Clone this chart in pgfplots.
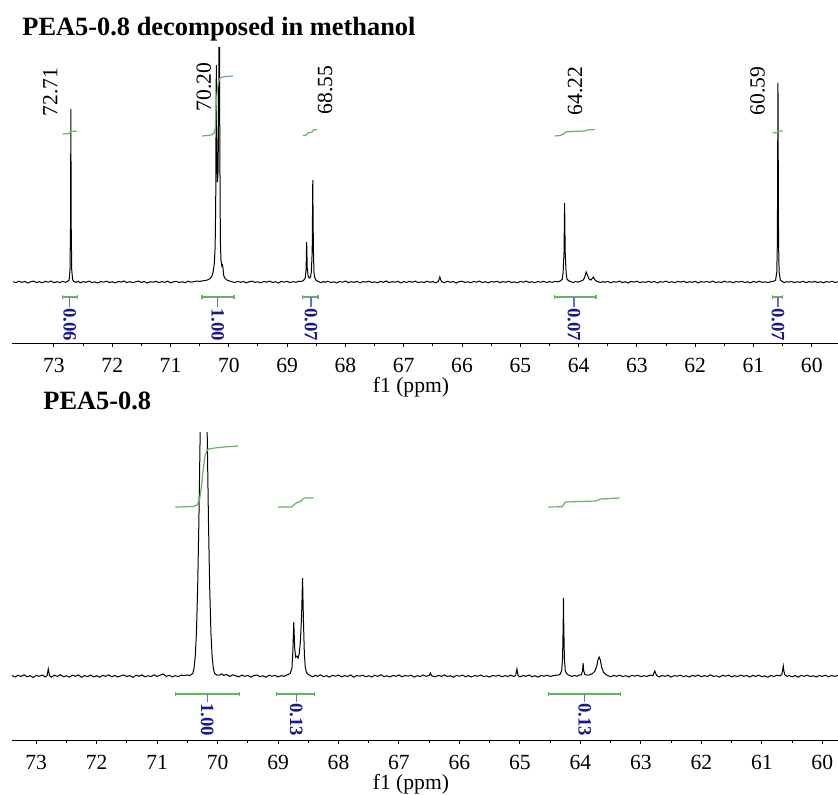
\documentclass[border=0pt]{standalone}
\usepackage{fontspec}
\setmainfont{Liberation Serif}
\usepackage{pgfplots}
\pgfplotsset{compat=1.18}
\definecolor{intgreen}{RGB}{100,180,100}
\definecolor{intblue}{RGB}{25,25,140}
\definecolor{ticblue}{RGB}{110,110,200}
\pgfplotsset{nmr/.style={scale only axis, width=413pt, x dir=reverse,
  axis x line*=bottom, axis y line=none,
  xtick={60,...,73}, minor x tick num=1, tick align=outside,
  major tick length=2pt, minor tick length=1.5pt,
  every tick/.style={black, line width=0.5pt},
  axis line style={line width=0.5pt},
  ticklabel style={font=\fontsize{10.8}{12}\selectfont},
  /pgf/number format/assume math mode=true,
  xticklabel style={inner sep=0pt, yshift=-5.5pt},
  xlabel={f1 (ppm)},
  xlabel style={at={(axis description cs:0.483,0)}, anchor=north, inner sep=0pt, yshift=-17pt, font=\fontsize{10.8}{12}\selectfont},
  clip mode=individual, anchor=south west},
  spec/.style={black, line width=0.5pt, no marks},
  integ/.style={intgreen, line width=0.6pt, no marks},
  brk/.style={intgreen, line width=0.6pt, no marks},
  ctick/.style={ticblue, line width=0.6pt, no marks}
}
\tikzset{
  plab/.style={rotate=90, inner sep=0pt, font=\fontsize{10.8}{12}\selectfont},
  ilab/.style={rotate=-90, anchor=west, inner sep=0pt, text=intblue, font=\bfseries\fontsize{9.4}{10}\selectfont}
}
\begin{document}
\begin{tikzpicture}
\useasboundingbox (0,0) rectangle (419pt,-397pt);
\node[anchor=base west, inner sep=0pt, font=\bfseries\fontsize{13.2}{15}\selectfont] at (11pt,-17.5pt) {PEA5-0.8 decomposed in methanol};
\node[anchor=base west, inner sep=0pt, font=\bfseries\fontsize{13.2}{15}\selectfont] at (21.5pt,-204.5pt) {PEA5-0.8};
% ---------------- top panel ----------------
\begin{axis}[nmr, at={(6pt,-171.5pt)}, height=148pt, xmin=59.55, xmax=73.72, ymin=-61, ymax=235]
\addplot[spec] coordinates {
(73.70,0.3)(73.65,-0.6)(73.60,0.8)(73.55,-0.4)(73.50,0.6)(73.45,-1.0)(73.40,0.2)(73.35,0.9)(73.30,-0.5)(73.25,0.4)
(73.20,-0.9)(73.15,0.7)(73.10,-0.2)(73.05,1.0)(73.00,-0.7)(72.95,0.3)(72.90,-0.5)(72.85,0.6)(72.80,-0.3)(72.76,0.8)
(72.74,2)(72.725,12)(72.715,60)(72.71,173)(72.705,60)(72.695,12)(72.68,2.5)(72.66,0.6)(72.62,-0.4)(72.58,0.7)
(72.55,-0.8)(72.50,0.4)(72.45,-0.3)(72.40,0.9)(72.35,-0.6)(72.30,0.2)(72.25,-1.0)(72.20,0.5)(72.15,-0.2)(72.10,0.8)
(72.05,-0.5)(72.00,0.3)(71.95,-0.9)(71.90,0.6)(71.85,-0.1)(71.80,1.0)(71.75,-0.6)(71.70,0.4)(71.65,-0.7)(71.60,0.2)
(71.55,0.9)(71.50,-0.4)(71.45,0.5)(71.40,-1.1)(71.35,0.3)(71.30,-0.2)(71.25,0.7)(71.20,-0.6)(71.15,0.4)(71.10,-0.3)
(71.05,0.9)(71.00,-0.8)(70.95,0.2)(70.90,0.6)(70.85,-0.5)(70.80,0.3)(70.75,-0.7)(70.70,0.8)(70.65,-0.2)(70.60,0.4)
(70.55,0.9)(70.50,0.6)(70.45,1.2)(70.40,1.5)(70.36,2.2)(70.32,3.5)(70.29,6)(70.27,10)(70.25,18)(70.235,35)
(70.225,80)(70.215,217)(70.205,120)(70.195,100)(70.185,110)(70.175,170)(70.165,320)(70.155,140)(70.145,40)(70.135,22)
(70.12,16)(70.11,17)(70.10,14)(70.09,7)(70.07,4)(70.04,2.2)(70.00,1.2)(69.95,0.4)(69.90,-0.6)(69.85,0.7)
(69.80,-0.3)(69.75,0.5)(69.70,-0.9)(69.65,0.3)(69.60,0.8)(69.55,-0.4)(69.50,0.2)(69.45,-0.8)(69.40,0.6)(69.35,-0.2)
(69.30,0.9)(69.25,-0.5)(69.20,0.3)(69.15,-1.0)(69.10,0.5)(69.05,-0.1)(69.00,0.7)(68.95,-0.6)(68.90,0.4)(68.85,-0.3)
(68.80,0.8)(68.76,0.5)(68.72,1.5)(68.69,4)(68.675,12)(68.665,40)(68.655,14)(68.64,6)(68.62,4)(68.60,5)
(68.585,10)(68.57,30)(68.56,102)(68.55,35)(68.54,10)(68.525,4)(68.50,1.5)(68.46,0.4)(68.42,-0.7)(68.38,0.6)
(68.35,-0.3)(68.30,0.8)(68.25,-0.5)(68.20,0.2)(68.15,-0.9)(68.10,0.5)(68.05,-0.2)(68.00,0.9)(67.95,-0.6)(67.90,0.3)
(67.85,-0.4)(67.80,0.7)(67.75,-1.0)(67.70,0.4)(67.65,-0.1)(67.60,0.8)(67.55,-0.5)(67.50,0.2)(67.45,-0.8)(67.40,0.6)
(67.35,-0.3)(67.30,1.0)(67.25,-0.6)(67.20,0.3)(67.15,-0.2)(67.10,0.7)(67.05,-0.9)(67.00,0.4)(66.95,-0.4)(66.90,0.6)
(66.85,-0.2)(66.80,0.9)(66.75,-0.7)(66.70,0.2)(66.65,-0.5)(66.60,0.8)(66.55,-0.3)(66.50,0.4)(66.45,-0.8)(66.41,0.5)
(66.39,3)(66.38,5)(66.37,3)(66.35,0.4)(66.30,-0.6)(66.25,0.7)(66.20,-0.3)(66.15,0.5)(66.10,-1.0)(66.05,0.3)
(66.00,0.8)(65.95,-0.4)(65.90,0.2)(65.85,-0.7)(65.80,0.6)(65.75,-0.2)(65.70,0.9)(65.65,-0.5)(65.60,0.3)(65.55,-0.9)
(65.50,0.5)(65.45,-0.1)(65.40,0.7)(65.35,-0.6)(65.30,0.4)(65.25,-0.3)(65.20,0.8)(65.15,-0.5)(65.10,0.2)(65.05,-0.8)
(65.00,0.6)(64.95,-0.2)(64.90,0.9)(64.85,-0.4)(64.80,0.3)(64.75,-0.7)(64.70,0.5)(64.65,-0.2)(64.60,0.7)(64.55,-0.5)
(64.50,0.4)(64.45,-0.3)(64.40,0.6)(64.35,0.2)(64.31,1.2)(64.28,3)(64.265,10)(64.25,30)(64.24,79)(64.23,30)
(64.215,10)(64.20,3)(64.17,1.2)(64.13,0.3)(64.09,-0.5)(64.05,0.6)(64.01,-0.2)(63.97,0.8)(63.93,1.5)(63.90,4)
(63.87,10)(63.85,7)(63.82,3)(63.79,2)(63.76,4)(63.745,5)(63.73,3)(63.70,1)(63.66,0.2)(63.62,-0.6)
(63.58,0.5)(63.55,-0.3)(63.50,0.7)(63.45,-0.8)(63.40,0.4)(63.35,-0.2)(63.30,0.9)(63.25,-0.5)(63.20,0.3)(63.15,-1.0)
(63.10,0.6)(63.05,-0.1)(63.00,0.8)(62.95,-0.6)(62.90,0.2)(62.85,-0.4)(62.80,0.7)(62.75,-0.3)(62.70,0.5)(62.65,-0.9)
(62.60,0.4)(62.55,-0.2)(62.50,0.9)(62.45,-0.5)(62.40,0.3)(62.35,-0.7)(62.30,0.6)(62.25,-0.1)(62.20,0.8)(62.15,-0.6)
(62.10,0.3)(62.05,-0.3)(62.00,0.7)(61.95,-0.9)(61.90,0.4)(61.85,-0.2)(61.80,0.6)(61.75,-0.4)(61.70,0.9)(61.65,-0.6)
(61.60,0.2)(61.55,-0.5)(61.50,0.8)(61.45,-0.2)(61.40,0.4)(61.35,-0.8)(61.30,0.5)(61.25,-0.1)(61.20,0.7)(61.15,-0.5)
(61.10,0.3)(61.05,-0.9)(61.00,0.6)(60.95,-0.3)(60.90,0.8)(60.85,-0.4)(60.80,0.2)(60.75,-0.6)(60.70,0.5)(60.65,0.8)
(60.62,2)(60.60,10)(60.59,40)(60.585,120)(60.58,199)(60.575,120)(60.57,40)(60.56,10)(60.54,2)(60.51,0.6)
(60.47,-0.5)(60.43,0.4)(60.40,-0.2)(60.35,0.7)(60.30,-0.6)(60.25,0.3)(60.20,-0.3)(60.15,0.8)(60.10,-0.7)(60.05,0.4)
(60.00,-0.2)(59.95,0.6)(59.90,-0.5)(59.85,0.3)(59.80,-0.8)(59.75,0.5)(59.70,-0.2)(59.65,0.7)(59.60,-0.4)(59.55,0.2)
};
% integral curves
\addplot[integ] coordinates {(72.85,148)(72.74,148.5)(72.72,149.5)(72.70,150.5)(72.61,151)};
\addplot[integ] coordinates {(70.46,146)(70.30,147)(70.25,149)(70.23,155)(70.22,175)(70.20,190)(70.18,200)(70.15,204)(70.10,205)(70.06,205.5)(69.93,206)};
\addplot[integ] coordinates {(68.73,146.5)(68.67,147)(68.65,149)(68.57,150)(68.55,152)(68.49,152.5)};
\addplot[integ] coordinates {(64.41,146)(64.32,146.5)(64.26,148)(64.22,150)(64.15,150.5)(63.90,151)(63.85,152)(63.72,152.5)};
\addplot[integ] coordinates {(60.67,149)(60.59,149.5)(60.57,151)(60.50,151)};
% integration brackets
\addplot[brk] coordinates {(72.85,-13)(72.85,-17)(72.85,-15)(72.59,-15)(72.59,-13)(72.59,-17)};
\addplot[ctick] coordinates {(72.73,-15)(72.73,-25)};
\addplot[brk] coordinates {(70.46,-13)(70.46,-17)(70.46,-15)(69.91,-15)(69.91,-13)(69.91,-17)};
\addplot[ctick] coordinates {(70.19,-15)(70.19,-25)};
\addplot[brk] coordinates {(68.73,-13)(68.73,-17)(68.73,-15)(68.47,-15)(68.47,-13)(68.47,-17)};
\addplot[ctick] coordinates {(68.59,-15)(68.59,-25)};
\addplot[brk] coordinates {(64.42,-13)(64.42,-17)(64.42,-15)(63.70,-15)(63.70,-13)(63.70,-17)};
\addplot[ctick] coordinates {(64.08,-15)(64.08,-25)};
\addplot[brk] coordinates {(60.67,-13)(60.67,-17)(60.67,-15)(60.50,-15)(60.50,-13)(60.50,-17)};
\addplot[ctick] coordinates {(60.58,-15)(60.58,-25)};
\node[ilab] at (axis cs:72.73,-26) {0.06};
\node[ilab] at (axis cs:70.19,-26) {1.00};
\node[ilab] at (axis cs:68.59,-26) {0.07};
\node[ilab] at (axis cs:64.08,-26) {0.07};
\node[ilab] at (axis cs:60.58,-26) {0.07};
% peak labels
\node[plab] at (axis cs:73.06,190) {72.71};
\node[plab] at (axis cs:70.43,195) {70.20};
\node[plab] at (axis cs:68.35,192) {68.55};
\node[plab] at (axis cs:64.06,191) {64.22};
\node[plab] at (axis cs:60.93,191) {60.59};
\end{axis}
% ---------------- bottom panel ----------------
\begin{axis}[nmr, at={(6pt,-370pt)}, height=154pt, xmin=59.74, xmax=73.40, ymin=-64, ymax=244]
\addplot[spec] coordinates {
(73.40,0.5)(73.35,-1.0)(73.30,0.8)(73.25,-0.5)(73.20,1.2)(73.15,-0.8)(73.10,0.3)(73.05,-1.4)(73.00,0.6)(72.95,-0.3)
(72.90,1.0)(72.85,-0.9)(72.82,0.5)(72.80,7)(72.78,0.4)(72.75,-1.2)(72.70,0.9)(72.65,-0.4)(72.60,1.3)(72.55,-0.7)
(72.50,0.2)(72.45,-1.1)(72.40,0.8)(72.35,-0.2)(72.30,1.1)(72.25,-1.3)(72.20,0.4)(72.15,-0.6)(72.10,1.0)(72.05,-0.9)
(72.00,0.3)(71.95,-1.2)(71.90,0.7)(71.85,-0.3)(71.80,1.2)(71.75,-0.8)(71.70,0.5)(71.65,-1.0)(71.60,0.2)(71.55,1.0)
(71.50,-0.6)(71.45,0.4)(71.40,-1.3)(71.35,0.8)(71.30,-0.2)(71.25,1.1)(71.20,-0.9)(71.15,0.3)(71.10,-0.5)(71.05,1.2)
(71.00,-0.4)(70.95,0.9)(70.90,2.0)(70.85,-0.3)(70.80,0.7)(70.75,-0.9)(70.70,0.4)(70.65,-0.6)(70.60,1.0)(70.55,0.3)
(70.50,1.1)(70.47,0.5)(70.45,0.8)(70.41,2.6)(70.39,7.6)(70.37,19)(70.35,43)(70.33,87)(70.31,152)(70.29,235)
(70.27,322)(70.25,388)(70.23,413)(70.21,388)(70.19,322)(70.17,235)(70.15,152)(70.13,87)(70.11,43)(70.09,19)
(70.07,7.6)(70.05,2.6)(70.01,0.8)(69.97,0.9)(69.93,2.2)(69.90,0.6)(69.85,1.5)(69.80,-0.4)(69.75,1.2)(69.70,0.2)
(69.65,-0.8)(69.60,0.9)(69.55,-0.3)(69.50,0.6)(69.45,-1.1)(69.40,0.4)(69.35,1.0)(69.30,-0.7)(69.25,0.3)(69.20,-1.2)
(69.15,0.8)(69.10,-0.2)(69.05,0.6)(69.00,-0.9)(68.95,0.4)(68.90,-0.3)(68.86,1.0)(68.83,1.5)(68.80,2.5)(68.77,8)
(68.755,25)(68.74,54)(68.725,28)(68.71,19)(68.69,20)(68.67,18)(68.65,22)(68.63,35)(68.61,62)(68.595,98)
(68.58,55)(68.565,22)(68.55,9)(68.53,3.5)(68.50,1.5)(68.46,0.3)(68.42,-0.8)(68.38,0.9)(68.35,-0.4)(68.30,1.2)
(68.25,-0.6)(68.20,0.3)(68.15,-1.1)(68.10,0.7)(68.05,-0.2)(68.00,1.0)(67.95,-0.8)(67.90,0.4)(67.85,-0.5)(67.80,1.1)
(67.75,-1.2)(67.70,0.5)(67.65,-0.2)(67.60,0.9)(67.55,-0.7)(67.50,0.3)(67.45,-1.0)(67.40,0.8)(67.35,-0.4)(67.30,1.3)
(67.25,-0.6)(67.20,0.2)(67.15,-0.9)(67.10,0.6)(67.05,-0.3)(67.00,1.0)(66.95,-0.8)(66.90,0.5)(66.85,-0.1)(66.80,0.8)
(66.75,-1.1)(66.70,0.4)(66.65,-0.6)(66.60,1.0)(66.55,-0.3)(66.50,0.6)(66.48,3)(66.46,0.2)(66.40,-0.9)(66.35,0.7)
(66.30,-0.4)(66.25,1.1)(66.20,-0.5)(66.15,0.3)(66.10,-1.2)(66.05,0.6)(66.00,-0.2)(65.95,0.9)(65.90,-0.7)(65.85,0.4)
(65.80,-1.0)(65.75,0.5)(65.70,-0.3)(65.65,1.0)(65.60,-0.6)(65.55,0.2)(65.50,-1.1)(65.45,0.7)(65.40,-0.2)(65.35,0.9)
(65.30,-0.8)(65.25,0.4)(65.20,-0.4)(65.15,0.8)(65.10,-0.5)(65.07,0.6)(65.05,7)(65.03,0.5)(65.00,-0.9)(64.95,0.5)
(64.90,-0.3)(64.85,1.0)(64.80,-0.7)(64.75,0.3)(64.70,-1.1)(64.65,0.6)(64.60,-0.2)(64.55,0.8)(64.50,-0.5)(64.45,0.4)
(64.40,0.9)(64.37,0.8)(64.34,1.5)(64.31,5)(64.295,18)(64.285,50)(64.28,78)(64.275,50)(64.265,18)(64.25,5)
(64.22,1.8)(64.18,0.5)(64.14,-0.4)(64.10,0.6)(64.06,-0.2)(64.02,0.8)(63.985,1.2)(63.965,5)(63.955,13)(63.945,5)
(63.925,1.5)(63.89,0.8)(63.85,1.2)(63.80,2.5)(63.76,5)(63.73,10)(63.71,16)(63.69,19)(63.67,16)(63.65,9)
(63.62,4)(63.58,1.5)(63.54,0.3)(63.50,-0.8)(63.45,0.6)(63.40,-0.3)(63.35,0.9)(63.30,-0.6)(63.25,0.4)(63.20,-1.0)
(63.15,0.7)(63.10,-0.2)(63.05,0.8)(63.00,-0.7)(62.95,0.3)(62.90,-0.4)(62.85,0.9)(62.80,0.5)(62.77,5)(62.74,0.6)
(62.70,-0.9)(62.65,0.5)(62.60,-0.3)(62.55,0.8)(62.50,-1.1)(62.45,0.4)(62.40,-0.2)(62.35,0.9)(62.30,-0.6)(62.25,0.3)
(62.20,-1.0)(62.15,0.6)(62.10,-0.3)(62.05,1.0)(62.00,-0.7)(61.95,0.4)(61.90,-0.5)(61.85,1.2)(61.80,-0.4)(61.75,0.2)
(61.70,-1.1)(61.65,0.7)(61.60,-0.2)(61.55,0.9)(61.50,-0.8)(61.45,0.3)(61.40,-0.6)(61.35,1.0)(61.30,-0.3)(61.25,0.5)
(61.20,-1.0)(61.15,0.6)(61.10,-0.4)(61.05,0.9)(61.00,-0.7)(60.95,0.2)(60.90,-1.2)(60.85,0.6)(60.80,-0.5)(60.75,0.8)
(60.70,0.2)(60.67,1.5)(60.655,6)(60.645,10)(60.635,5)(60.62,1.2)(60.58,-0.5)(60.55,0.6)(60.50,-0.8)(60.45,0.4)
(60.40,-1.2)(60.35,0.7)(60.30,-0.3)(60.25,0.9)(60.20,-0.6)(60.15,0.3)(60.10,-1.0)(60.05,0.6)(60.00,-0.4)(59.95,0.8)
(59.90,-0.9)(59.85,0.5)(59.80,-0.3)(59.74,0.6)
};
\addplot[integ] coordinates {(70.70,169)(70.40,169.5)(70.34,171)(70.30,176)(70.27,188)(70.24,205)(70.21,220)(70.18,225)(70.15,227)(70.05,228)(69.90,229)(69.66,230)};
\addplot[integ] coordinates {(69.00,169)(68.78,169)(68.74,171)(68.70,173)(68.66,174)(68.62,175)(68.59,177)(68.56,178)(68.41,178)};
\addplot[integ] coordinates {(64.53,169)(64.30,169.3)(64.25,174)(63.75,175)(63.67,177)(63.35,178)};
\addplot[brk] coordinates {(70.70,-16)(70.70,-20)(70.70,-18)(69.64,-18)(69.64,-16)(69.64,-20)};
\addplot[ctick] coordinates {(70.17,-18)(70.17,-26)};
\addplot[brk] coordinates {(69.02,-16)(69.02,-20)(69.02,-18)(68.40,-18)(68.40,-16)(68.40,-20)};
\addplot[ctick] coordinates {(68.70,-18)(68.70,-26)};
\addplot[brk] coordinates {(64.53,-16)(64.53,-20)(64.53,-18)(63.34,-18)(63.34,-16)(63.34,-20)};
\addplot[ctick] coordinates {(63.93,-18)(63.93,-26)};
\node[ilab] at (axis cs:70.17,-27) {1.00};
\node[ilab] at (axis cs:68.70,-27) {0.13};
\node[ilab] at (axis cs:63.93,-27) {0.13};
\end{axis}
\end{tikzpicture}
\end{document}
